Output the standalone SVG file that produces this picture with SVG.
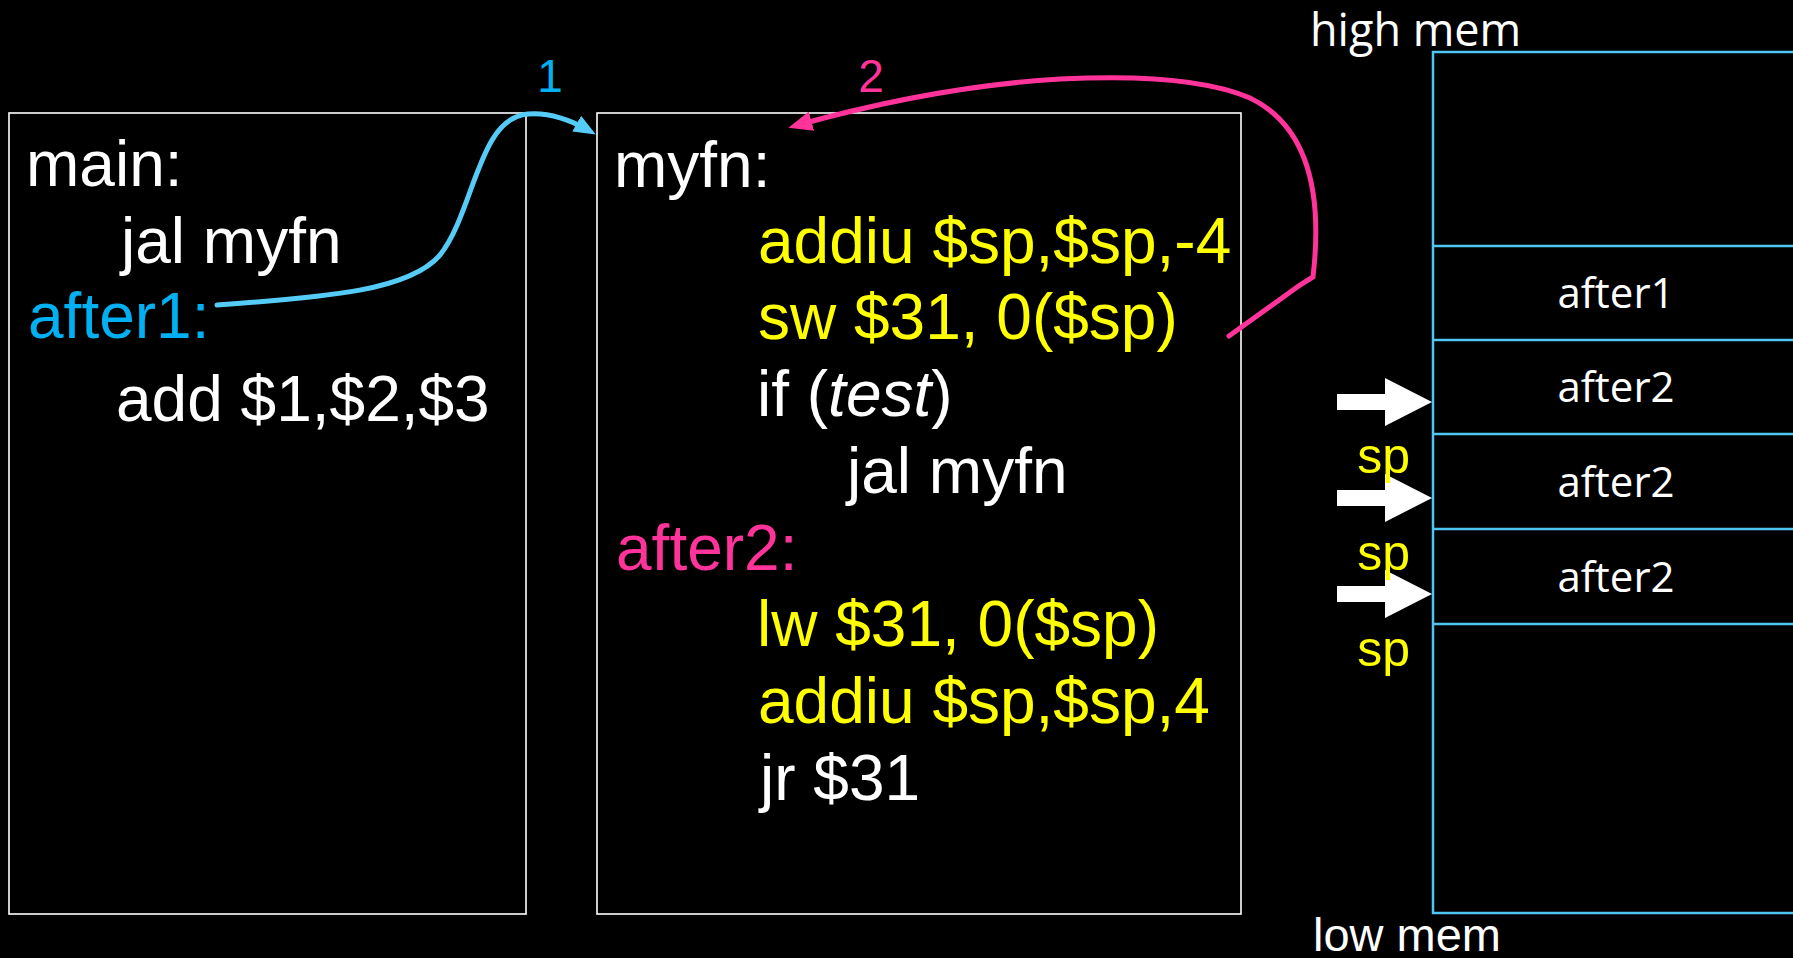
<svg xmlns="http://www.w3.org/2000/svg" width="1793" height="958" viewBox="0 0 1793 958">
  <style>
    .code { font-family: "Liberation Sans", Arial, sans-serif; font-size: 64px; fill: #FFFFFF; }
    .yel { fill: #FFFF00; }
    .box { fill: none; stroke: #FFFFFF; stroke-width: 1.6; }
    .mem { fill: none; stroke: #4FC6F2; stroke-width: 2.5; }
    .cell { font-family: "Open Sans", sans-serif; font-size: 42px; fill: #FFFFFF; text-anchor: middle; }
    .sp { font-family: "Liberation Sans", Arial, sans-serif; font-size: 50px; fill: #FFFF00; text-anchor: end; }
    .ptr { fill: #FFFFFF; }
  </style>
  <defs>
    <marker id="headBlue" markerWidth="22" markerHeight="18" refX="13" refY="9" orient="auto" markerUnits="userSpaceOnUse" viewBox="0 0 22 18">
      <path d="M0,0 L22,9 L0,18 Z" fill="#55CCF7"/>
    </marker>
    <marker id="headPink" markerWidth="24" markerHeight="20" refX="14" refY="10" orient="auto" markerUnits="userSpaceOnUse" viewBox="0 0 24 20">
      <path d="M0,0 L24,10 L0,20 Z" fill="#FF3399"/>
    </marker>
  </defs>

  <rect width="1793" height="958" fill="#000000"/>

  <!-- caller -->
  <g id="main-box">
    <rect class="box" x="9" y="113" width="517" height="801"/>
    <text class="code" x="26" y="186">main:</text>
    <text class="code" x="121" y="263">jal myfn</text>
    <text class="code" x="28" y="338" style="fill:#00B0F0">after1:</text>
    <text class="code" x="116" y="421">add $1,$2,$3</text>
  </g>

  <!-- recursive function -->
  <g id="myfn-box">
    <rect class="box" x="597" y="113" width="644" height="801"/>
    <text class="code" x="614" y="187">myfn:</text>
    <text class="code yel" x="758" y="263">addiu $sp,$sp,-4</text>
    <text class="code yel" x="758" y="339">sw $31, 0($sp)</text>
    <text class="code" x="757" y="416">if (<tspan font-style="italic">test</tspan>)</text>
    <text class="code" x="847" y="493">jal myfn</text>
    <text class="code" x="616" y="570" style="fill:#FF3399">after2:</text>
    <text class="code yel" x="757" y="646">lw $31, 0($sp)</text>
    <text class="code yel" x="758" y="723">addiu $sp,$sp,4</text>
    <text class="code" x="760" y="800">jr $31</text>
  </g>

  <!-- stack memory -->
  <g id="stack">
    <text x="1310" y="46" font-family="Open Sans, sans-serif" font-size="45" fill="#FFFFFF">high mem</text>
    <rect class="mem" x="1433" y="52" width="370" height="861"/>
    <line class="mem" x1="1433" y1="246" x2="1793" y2="246"/>
    <line class="mem" x1="1433" y1="340" x2="1793" y2="340"/>
    <line class="mem" x1="1433" y1="434" x2="1793" y2="434"/>
    <line class="mem" x1="1433" y1="529" x2="1793" y2="529"/>
    <line class="mem" x1="1433" y1="624" x2="1793" y2="624"/>
    <text class="cell" x="1616" y="308">after1</text>
    <text class="cell" x="1616" y="402">after2</text>
    <text class="cell" x="1616" y="497">after2</text>
    <text class="cell" x="1616" y="592">after2</text>
    <text x="1313" y="951" font-family="Liberation Sans, Arial, sans-serif" font-size="47" fill="#FFFFFF">low mem</text>
  </g>

  <!-- stack pointer positions -->
  <g id="sp-pointers">
    <polygon class="ptr" points="1337,394 1385,394 1385,378 1432,402 1385,426 1385,410 1337,410"/>
    <polygon class="ptr" points="1337,490 1385,490 1385,474 1432,498 1385,522 1385,506 1337,506"/>
    <polygon class="ptr" points="1337,586 1385,586 1385,570 1432,594 1385,618 1385,602 1337,602"/>
    <text class="sp" x="1410" y="473">sp</text>
    <text class="sp" x="1410" y="570">sp</text>
    <text class="sp" x="1410" y="666">sp</text>
  </g>

  <!-- control-flow connectors -->
  <g id="connectors" fill="none" stroke-linecap="round">
    <path d="M217,305 C330,297 410,290 440,255 C475,210 478,118 528,114 C552,112 572,121 588,130" stroke="#55CCF7" stroke-width="5" marker-end="url(#headBlue)"/>
    <path d="M1229,336 L1300,285 L1313,277 C1322,200 1312,128 1250,98 C1200,76 1120,76 1060,79 C960,85 870,105 798,125" stroke="#FF3399" stroke-width="5" marker-end="url(#headPink)"/>
    <text x="550" y="92" font-family="Liberation Sans, Arial, sans-serif" font-size="46" fill="#00B0F0" stroke="none" text-anchor="middle">1</text>
    <text x="871" y="92" font-family="Liberation Sans, Arial, sans-serif" font-size="46" fill="#FF3399" stroke="none" text-anchor="middle">2</text>
  </g>
</svg>
